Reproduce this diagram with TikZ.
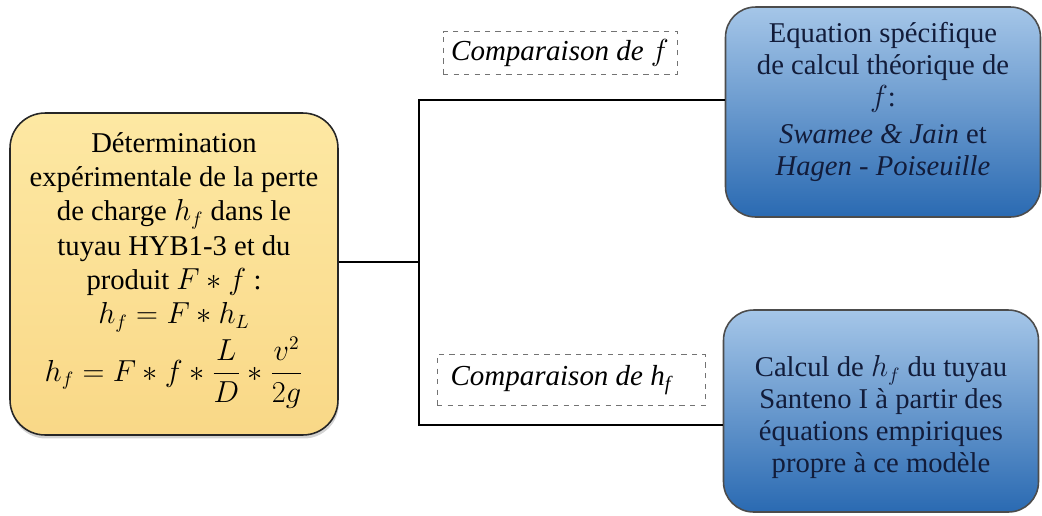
\documentclass[tikz,border=0pt]{standalone}
\usepackage{amsmath}
\usepackage{fontspec}
\setmainfont{Liberation Serif}
\usepackage{tikz}
\usetikzlibrary{positioning}
\usetikzlibrary{shadows}
\usepackage{xcolor}

\definecolor{sandtop}{RGB}{253,232,163}
\definecolor{sandbot}{RGB}{249,216,135}
\definecolor{skytop}{RGB}{165,198,232}
\definecolor{skybot}{RGB}{42,106,178}
\definecolor{inkblue}{RGB}{18,28,58}

\tikzset{
  expbox/.style={draw=black!85, line width=0.9pt, rounded corners=0.7cm,
    top color=sandtop, bottom color=sandbot, align=center,
    minimum width=6.56cm, minimum height=6.44cm, inner sep=0pt,
    font=\fontsize{16.3}{19.5}\selectfont,
    drop shadow={opacity=0.35, shadow xshift=0.5pt, shadow yshift=-2pt}},
  calcbox/.style={draw=black!70, line width=0.9pt, rounded corners=0.6cm,
    top color=skytop, bottom color=skybot, align=center, text=inkblue,
    minimum width=6.3cm, inner sep=0pt,
    font=\fontsize{16.3}{18.2}\selectfont},
  cmplabel/.style={draw=black!55, dashed, line width=0.4pt, inner sep=0pt,
    font=\fontsize{16.5}{19}\selectfont\itshape},
  link/.style={draw=black, line width=1.5pt}
}

\begin{document}
\begin{tikzpicture}[x=0.02cm, y=-0.02cm]

\useasboundingbox (0,0) rectangle (1042,515);

% boites principales
\node (exp) at (174,274) [expbox]
{D\'etermination\\
exp\'erimentale de la perte\\
de charge $h_f$ dans le\\
tuyau HYB1-3 et du\\
produit $F*f$ :\\
$h_f = F * h_L$\\[2pt]
$h_f = F * f * \dfrac{L}{D} * \dfrac{v^2}{2g}$\\[0pt]\mbox{}};

\node (theo) at (883,112) [calcbox, minimum height=4.2cm]
{Equation sp\'ecifique\\
de calcul th\'eorique de\\
$f$:\\[3pt]
\textit{Swamee \& Jain} et\\
\textit{Hagen - Poiseuille}\\[-3pt]\mbox{}};

\node (emp) at (881,411) [calcbox, minimum height=4.04cm]
{\mbox{}\\[1pt]
Calcul de $h_f$ du tuyau\\
Santeno I \`a partir des\\
\'equations empiriques\\
propre \`a ce mod\`ele};

% etiquettes en pointilles
\node (cmpf) at (560,53) [cmplabel, minimum width=4.68cm, minimum height=0.86cm]
{Comparaison de $f$};

\node (cmph) at (571,380) [cmplabel, minimum width=5.36cm, minimum height=1.02cm]
{Comparaison de h\textsubscript{\textit{f}}\hspace*{0.4cm}};

% liaisons
\coordinate (fork) at (419,262);

\draw[link] (exp.east |- fork) -- (fork);
\draw[link] (fork) |- ([yshift=0.24cm]theo.west);
\draw[link] (fork) |- ([yshift=-0.28cm]emp.west);

\end{tikzpicture}
\end{document}
